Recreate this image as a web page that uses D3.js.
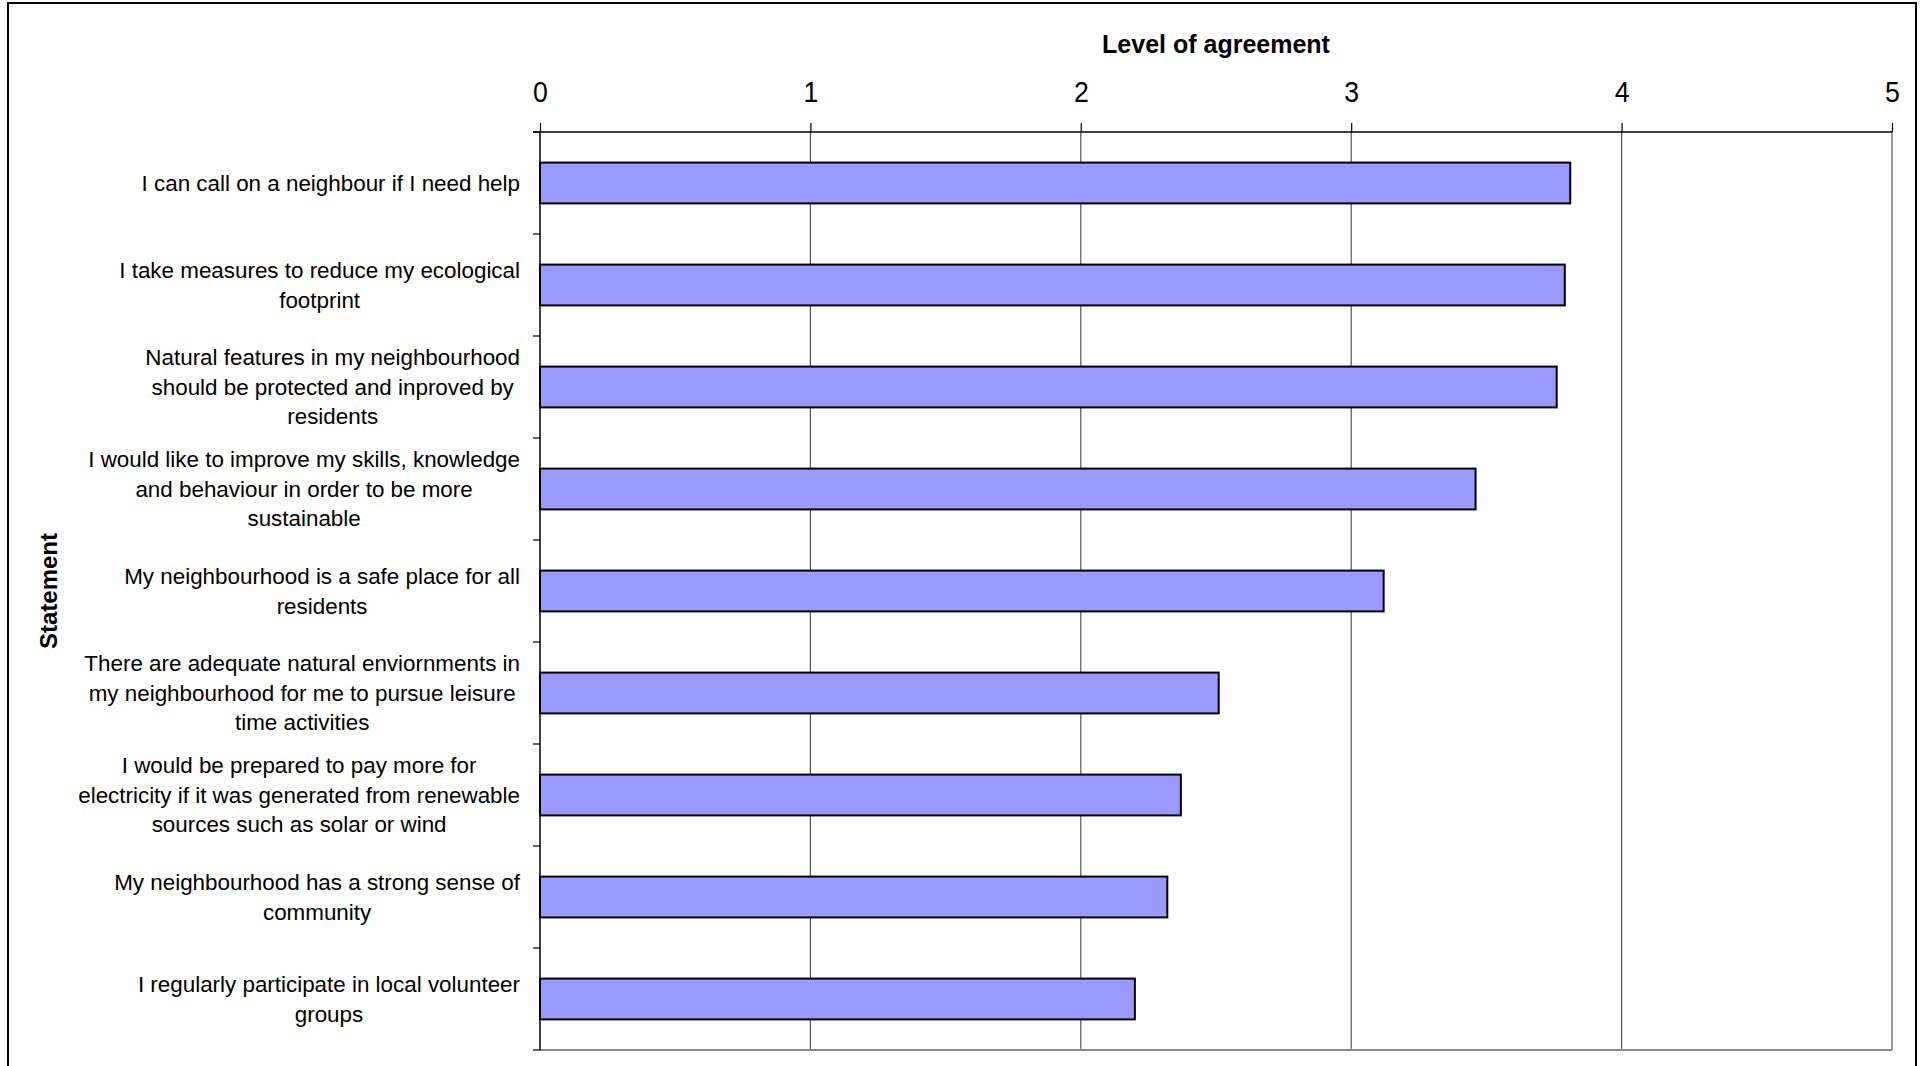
<!DOCTYPE html>
<html>
<head>
<meta charset="utf-8">
<script src="https://cdn.jsdelivr.net/npm/d3@7"></script>
<style>
  html, body { margin: 0; padding: 0; background: #fff; }
  svg { display: block; }
  text { font-family: "Liberation Sans", Arial, sans-serif; fill: #000; }
</style>
</head>
<body>
<svg id="chart" width="1925" height="1066"></svg>
<script>
// ---- data ----
const categories = [
  "I can call on a neighbour if I need help",
  "I take measures to reduce my ecological footprint",
  "Natural features in my neighbourhood should be protected and inproved by residents",
  "I would like to improve my skills, knowledge and behaviour in order to be more sustainable",
  "My neighbourhood is a safe place for all residents",
  "There are adequate natural enviornments in my neighbourhood for me to pursue leisure time activities",
  "I would be prepared to pay more for electricity if it was generated from renewable sources such as solar or wind",
  "My neighbourhood has a strong sense of community",
  "I regularly participate in local volunteer groups"
];
const labelLines = [
  ["I can call on a neighbour if I need help"],
  ["I take measures to reduce my ecological", "footprint"],
  ["Natural features in my neighbourhood", "should be protected and inproved by", "residents"],
  ["I would like to improve my skills, knowledge", "and behaviour in order to be more", "sustainable"],
  ["My neighbourhood is a safe place for all", "residents"],
  ["There are adequate natural enviornments in", "my neighbourhood for me to pursue leisure", "time activities"],
  ["I would be prepared to pay more for", "electricity if it was generated from renewable", "sources such as solar or wind"],
  ["My neighbourhood has a strong sense of", "community"],
  ["I regularly participate in local volunteer", "groups"]
];
const values = [3.81, 3.79, 3.76, 3.46, 3.12, 2.51, 2.37, 2.32, 2.20];
const xTicks = [0, 1, 2, 3, 4, 5];
const xTitle = "Level of agreement";
const yTitle = "Statement";

// ---- layout ----
const svg = d3.select("#chart");
const plot = { left: 540, right: 1892, top: 132, bottom: 1050 };

const x = d3.scaleLinear().domain([0, 5]).range([plot.left, plot.right]);
const y = d3.scaleBand().domain(categories).range([plot.top, plot.bottom])
  .paddingInner(0.6).paddingOuter(0.3);

// outer border
svg.append("rect")
  .attr("x", 8).attr("y", 3).attr("width", 1908).attr("height", 1120)
  .attr("fill", "none").attr("stroke", "#000").attr("stroke-width", 2);

// gridlines
svg.append("g").selectAll("line").data(xTicks.slice(1)).join("line")
  .attr("x1", d => x(d)).attr("x2", d => x(d))
  .attr("y1", plot.top).attr("y2", plot.bottom)
  .attr("stroke", "#555").attr("stroke-width", 1.2);

// bottom plot edge
svg.append("line")
  .attr("x1", plot.left).attr("x2", plot.right)
  .attr("y1", plot.bottom).attr("y2", plot.bottom)
  .attr("stroke", "#888").attr("stroke-width", 2);

// top axis
const xAxis = d3.axisTop(x).tickValues(xTicks).tickSize(9).tickPadding(21)
  .tickFormat(d3.format("d"));
const gx = svg.append("g").attr("transform", `translate(0,${plot.top})`).call(xAxis);
gx.select(".domain").attr("stroke", "#000").attr("stroke-width", 1.5)
  .attr("d", `M${plot.left - 7},0H${plot.right}`);
gx.selectAll(".tick line").attr("stroke", "#000").attr("stroke-width", 1.2);
gx.selectAll(".tick text").attr("font-size", 29)
  .attr("font-family", "'Liberation Sans', Arial, sans-serif").attr("fill", "#000")
  .attr("transform", "scale(0.92,1)");

// left axis line with ticks at band edges
const edges = categories.map((c, i) => plot.top + i * (plot.bottom - plot.top) / categories.length)
  .concat([plot.bottom]);
svg.append("line")
  .attr("x1", plot.left).attr("x2", plot.left)
  .attr("y1", plot.top).attr("y2", plot.bottom)
  .attr("stroke", "#000").attr("stroke-width", 1.5);
svg.append("g").selectAll("line").data(edges).join("line")
  .attr("x1", plot.left - 7).attr("x2", plot.left)
  .attr("y1", d => d).attr("y2", d => d)
  .attr("stroke", "#000").attr("stroke-width", 1.2);

// bars
svg.append("g").selectAll("rect").data(values).join("rect")
  .attr("x", x(0))
  .attr("y", (d, i) => y(categories[i]))
  .attr("width", d => x(d) - x(0))
  .attr("height", y.bandwidth())
  .attr("fill", "#9999FF")
  .attr("stroke", "#000").attr("stroke-width", 2);

// category labels
const labelRight = 520;
const lineH = 29.5;
const lg = svg.append("g").attr("font-size", 22.4);
labelLines.forEach((lines, i) => {
  const cy = y(categories[i]) + y.bandwidth() / 2;
  const t = lg.append("text").attr("text-anchor", "middle");
  const spans = lines.map((ln, j) =>
    t.append("tspan").text(ln)
      .attr("y", cy + (j - (lines.length - 1) / 2) * lineH)
      .attr("dy", "0.35em"));
  const maxW = d3.max(spans, s => s.node().getComputedTextLength());
  spans.forEach(s => s.attr("x", labelRight - maxW / 2));
});

// titles
svg.append("text")
  .attr("x", (plot.left + plot.right) / 2).attr("y", 53)
  .attr("text-anchor", "middle").attr("font-weight", "bold").attr("font-size", 25)
  .text(xTitle);
svg.append("text")
  .attr("transform", `translate(57,${(plot.top + plot.bottom) / 2}) rotate(-90)`)
  .attr("text-anchor", "middle").attr("font-weight", "bold").attr("font-size", 24)
  .text(yTitle);
</script>
</body>
</html>
